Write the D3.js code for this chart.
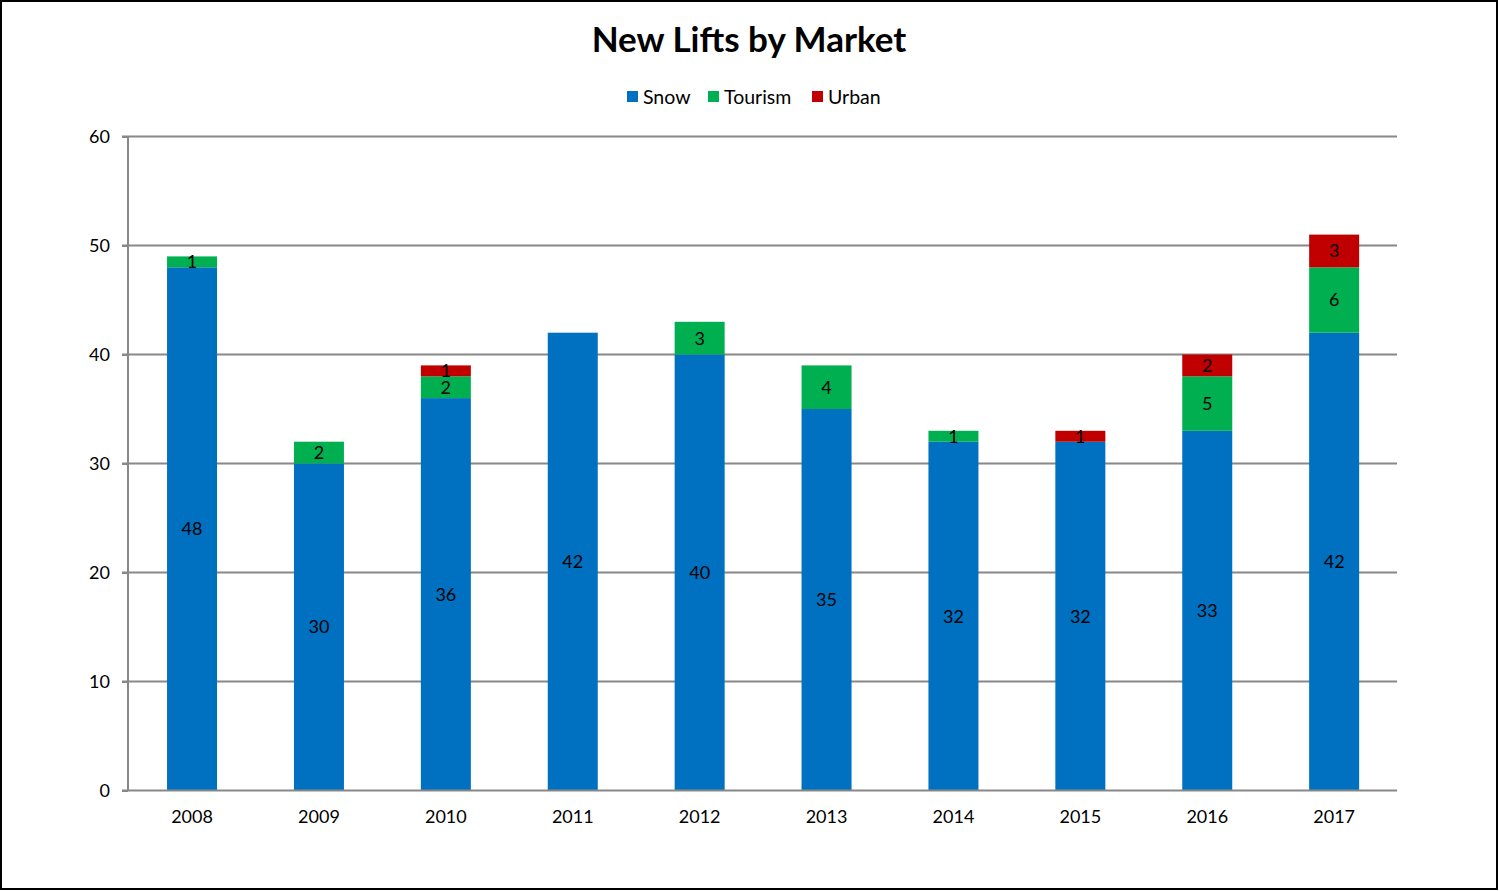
<!DOCTYPE html>
<html><head><meta charset="utf-8">
<script src="https://cdn.jsdelivr.net/npm/d3@7"></script>
<style>body{margin:0;background:#fff}svg{display:block}text{font-family:Lato,"Open Sans",sans-serif}</style>
</head><body><svg id="c" width="1499" height="891"></svg>
<script>
const years = ["2008","2009","2010","2011","2012","2013","2014","2015","2016","2017"];
const snow = [48,30,36,42,40,35,32,32,33,42];
const tourism = [1,2,2,0,3,4,1,0,5,6];
const urban = [0,0,1,0,0,0,0,1,2,3];
const seriesNames = ["Snow","Tourism","Urban"];
const seriesColors = ["#0070C0","#00B050","#C00000"];
const yTicks = [0,10,20,30,40,50,60];

(function(){
const svg = d3.select("#c");
svg.append("rect").attr("x",1).attr("y",1).attr("width",1496).attr("height",888)
  .attr("fill","#fff").attr("stroke","#000").attr("stroke-width",2);

const pL=128,pR=1397,pT=136.5,pB=790.5;
const x = d3.scaleBand().domain(years).range([pL+0.6,pR+0.6]).paddingInner(0.606).paddingOuter(0.303);
const y = d3.scaleLinear().domain([0,60]).range([pB,pT]);

const rows = years.map((yr,i)=>({year:yr,Snow:snow[i],Tourism:tourism[i],Urban:urban[i]}));
const stack = d3.stack().keys(seriesNames)(rows);

svg.append("g").selectAll("line").data(yTicks.filter(t=>t>0)).join("line")
  .attr("x1",pL-6).attr("x2",pR).attr("y1",d=>y(d)).attr("y2",d=>y(d))
  .attr("stroke","#888").attr("stroke-width",2);

const color = d3.scaleOrdinal().domain(seriesNames).range(seriesColors);
stack.forEach(s=>{
  const g = svg.append("g");
  const segs = s.filter(d=>d[1]-d[0]>0);
  g.selectAll("rect").data(segs).join("rect")
    .attr("x",d=>x(d.data.year)).attr("width",x.bandwidth())
    .attr("y",d=>y(d[1])).attr("height",d=>y(d[0])-y(d[1]))
    .attr("fill",color(s.key));
  g.selectAll("text").data(segs).join("text")
    .attr("x",d=>x(d.data.year)+x.bandwidth()/2)
    .attr("y",d=>(y(d[0])+y(d[1]))/2).attr("dy","0.36em")
    .attr("text-anchor","middle").attr("font-size",18).attr("fill","#000")
    .text(d=>d[1]-d[0]);
});

const ya = svg.append("g").attr("transform",`translate(${pL},0)`)
  .call(d3.axisLeft(y).tickValues(yTicks).tickSize(6).tickPadding(12));
ya.select(".domain").attr("stroke","#888").attr("stroke-width",2).attr("d",`M0,${pT}V${pB}`);
ya.selectAll(".tick line").attr("stroke","#888").attr("stroke-width",2);
ya.selectAll(".tick text").attr("font-size",18).attr("fill","#000").style("font-family","Lato,sans-serif");

const xa = svg.append("g").attr("transform",`translate(0,${pB})`)
  .call(d3.axisBottom(x).tickSize(0).tickPadding(20));
xa.select(".domain").attr("stroke","#888").attr("stroke-width",2).attr("d",`M${pL-6},0H${pR}`);
xa.selectAll(".tick text").attr("font-size",18).attr("fill","#000").style("font-family","Lato,sans-serif");

svg.append("text").attr("x",749).attr("y",52).attr("text-anchor","middle")
  .attr("font-size",35).attr("font-weight","bold").attr("fill","#000").text("New Lifts by Market");

const legX = [627,708,812];
const lg = svg.append("g");
seriesNames.forEach((n,i)=>{
  lg.append("rect").attr("x",legX[i]).attr("y",91).attr("width",11).attr("height",11).attr("fill",seriesColors[i]);
  lg.append("text").attr("x",legX[i]+16).attr("y",97).attr("dy","0.36em").attr("font-size",19.5).attr("fill","#000").text(n);
});
})();
</script></body></html>
